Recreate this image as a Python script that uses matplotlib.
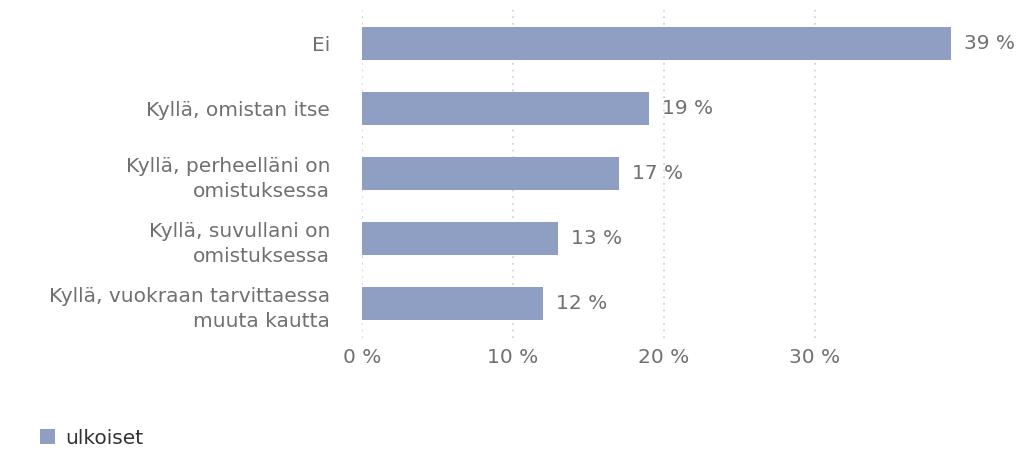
import matplotlib
matplotlib.use("Agg")

import matplotlib.pyplot as plt
from matplotlib.patches import Patch

# data
categories = ["Ei",
              "Kyllä, omistan itse",
              "Kyllä, perheelläni on\nomistuksessa",
              "Kyllä, suvullani on\nomistuksessa",
              "Kyllä, vuokraan tarvittaessa\nmuuta kautta"]
values = [39, 19, 17, 13, 12]
series_name = "ulkoiset"
xticks = [0, 10, 20, 30]

bar_color = "#8f9fc4"
text_color = "#707070"
fs = 14.5

plt.rcParams["font.family"] = ["DejaVu Sans"]

W, H = 1036, 454
fig = plt.figure(figsize=(W / 100, H / 100), dpi=100)
ax = fig.add_axes([362 / W, 1 - 338 / H, 660 / W, 328 / H])

ypos = list(range(len(categories)))
ax.barh(ypos, values, height=0.5, color=bar_color, zorder=3)
ax.set_ylim(4.53, -0.515)
ax.set_xlim(0, 660 / 15.1)

for y, v in zip(ypos, values):
    ax.text(v + 0.85, y, f"{v} %", va="center", ha="left",
            fontsize=fs, color=text_color)

ax.set_yticks(ypos)
ax.set_yticklabels(categories, fontsize=fs, color=text_color,
                   linespacing=1.4, ha="right")
ax.set_xticks(xticks)
ax.set_xticklabels([f"{t} %" for t in xticks], fontsize=fs, color=text_color)
ax.tick_params(axis="both", length=0)
ax.tick_params(axis="y", pad=23)
ax.tick_params(axis="x", pad=7)

ax.grid(axis="x", linestyle=(0, (1, 3)), color="#cccccc", linewidth=1.2, zorder=0)
for s in ax.spines.values():
    s.set_visible(False)

handle = Patch(facecolor=bar_color, edgecolor="none")
fig.legend([handle], [series_name], loc="center left",
           bbox_to_anchor=(22 / W, 1 - 438 / H), frameon=False,
           fontsize=fs, labelcolor="#333333", handlelength=0.75,
           handleheight=0.75, handletextpad=0.5)

fig.savefig("out.png", dpi=100)
